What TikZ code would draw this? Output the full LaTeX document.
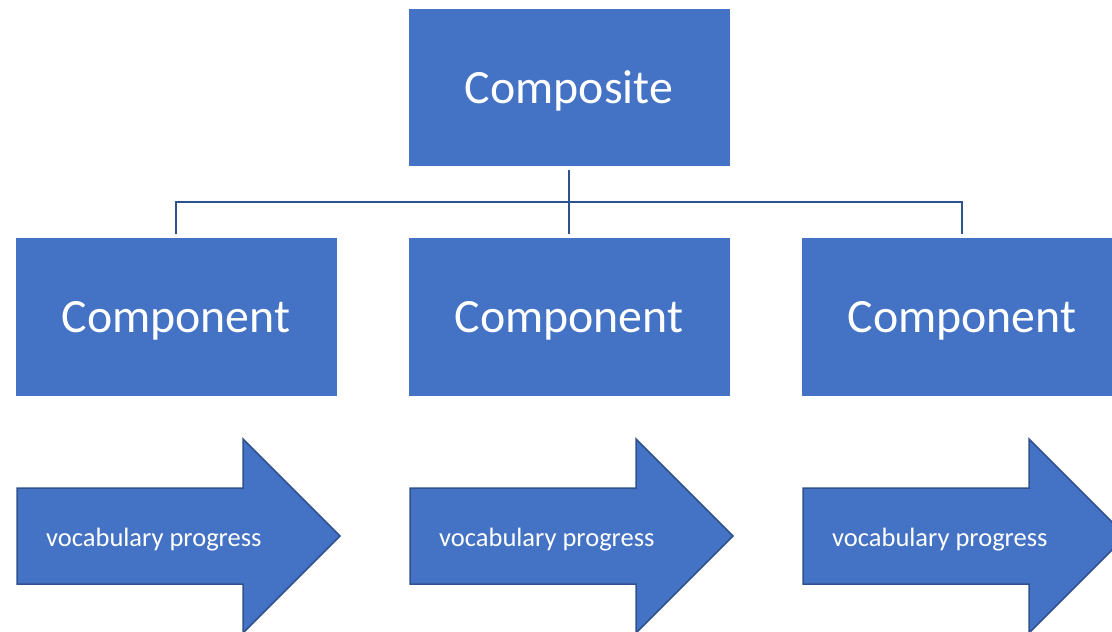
\documentclass[tikz,border=0pt]{standalone}
\usepackage{fontspec}
\setmainfont{Carlito}
\usetikzlibrary{positioning,calc}
\definecolor{boxblue}{HTML}{4472C4}
\definecolor{edgeblue}{HTML}{2F528F}
\tikzset{
    toplevel/.style={rectangle, draw=white, line width=1pt, fill=boxblue, text=white, font=\fontsize{47.8}{54}\selectfont, minimum width=322pt, minimum height=158pt, inner sep=0pt},
    component/.style={rectangle, draw=white, line width=1pt, fill=boxblue, text=white, font=\fontsize{47.8}{54}\selectfont, minimum width=322pt, minimum height=159pt, inner sep=0pt},
    progress/.style={draw=edgeblue, line width=1.5pt, fill=boxblue, line join=miter},
    progresslabel/.style={text=white, font=\fontsize{26.5}{30}\selectfont, inner sep=0pt, anchor=west},
    link/.style={draw=edgeblue, line width=2.2pt}
}

\begin{document}
\begin{tikzpicture}[x=1pt, y=-1pt]
\useasboundingbox (0,0) rectangle (1112,632);
\clip (0,0) rectangle (1112,632);

% ----------------------------
% Boxes
% ----------------------------
\node[toplevel] (top) at (569,87) {};
\node[component] (c1) at (176,317) {};
\node[component] (c2) at (569,317) {};
\node[component] (c3) at (962,317) {};
\foreach \b/\t in {top/Composite,c1/Component,c2/Component,c3/Component}
  \node[text=white, font=\fontsize{47.8}{54}\selectfont, inner sep=0pt] (\b-label) at ([yshift=-3.5pt]\b.center) {\t};

% ----------------------------
% Tree lines
% ----------------------------
\coordinate (bus) at (569,202);
\draw[link, shorten <=3pt] (top.south) -- (bus);
\draw[link, shorten <=3pt] (c1.north) |- (bus);
\draw[link, shorten <=3pt] (c3.north) |- (bus);
\draw[link, shorten <=3pt] (c2.north) -- (bus);

% ----------------------------
% Arrows
% ----------------------------
\foreach \x/\n in {17/1,410/2,803/3} {
  \draw[progress] (\x,488) -- ++(226,0) -- ++(0,-49) -- ++(97,97) -- ++(-97,97) -- ++(0,-49) -- ++(-226,0) -- cycle;
  \node[progresslabel] (p\n) at (\x+29,540) {vocabulary progress};
}

\end{tikzpicture}
\end{document}
